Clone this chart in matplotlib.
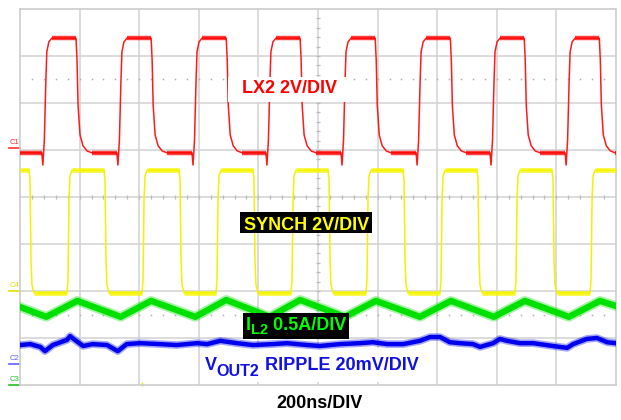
import numpy as np
import matplotlib.pyplot as plt
from matplotlib.patches import Rectangle

plt.rcParams['font.family'] = ['Liberation Sans', 'DejaVu Sans']

# scope screen: 10 x 8 divisions, 200ns/DIV -- all values in divisions

# LX2 switch node (CH1)
lx2_rise = [0.40, 1.66, 2.92, 4.16, 5.42, 6.68, 7.92, 9.18]
lx2_fall = [0.94, 2.20, 3.46, 4.70, 5.96, 7.22, 8.46, 9.72]
lx2_high, lx2_low = 7.38, 4.94
lx2_rise_dx = [-0.034, -0.017, 0.008, 0.034, 0.050, 0.084, 0.134]
lx2_rise_y = [4.94, 4.68, 5.21, 6.49, 7.09, 7.30, 7.38]
lx2_fall_dx = [0.0, 0.017, 0.034, 0.067, 0.117, 0.185, 0.268]
lx2_fall_y = [7.38, 6.91, 5.96, 5.32, 5.09, 4.98, 4.94]

# SYNCH (CH4)
sync_rise = [0.805, 2.064, 3.305, 4.564, 5.822, 7.064, 8.322, 9.581]
sync_fall = [0.151, 1.409, 2.668, 3.909, 5.168, 6.426, 7.668, 8.926]
sync_high, sync_low = 4.57, 1.96
sync_rise_dx = [-0.017, 0.0, 0.017, 0.034, 0.067]
sync_rise_y = [1.96, 2.23, 3.94, 4.45, 4.57]
sync_fall_dx = [0.0, 0.017, 0.034, 0.050, 0.084]
sync_fall_y = [4.57, 4.36, 2.66, 2.13, 1.96]

# inductor current IL2 (CH3)
il2_t = [0.0, 0.44, 0.96, 1.69, 2.20, 2.94, 3.46, 4.19, 4.70,
         5.45, 5.97, 6.71, 7.23, 7.95, 8.47, 9.21, 9.73, 10.0]
il2_y = [1.66, 1.45, 1.79, 1.45, 1.79, 1.45, 1.81, 1.45, 1.81,
         1.45, 1.79, 1.45, 1.79, 1.45, 1.79, 1.45, 1.79, 1.68]

# VOUT2 ripple (CH2)
vout_t = [0.00, 0.17, 0.34, 0.42, 0.55, 0.79, 0.84, 0.92, 1.06, 1.22,
          1.46, 1.64, 1.79, 2.01, 2.35, 2.63, 2.97, 3.14, 3.36, 3.64,
          3.91, 4.24, 4.48, 4.82, 5.03, 5.37, 5.70, 5.92, 6.16, 6.43,
          6.71, 6.88, 7.05, 7.21, 7.38, 7.60, 7.72, 7.94, 8.05, 8.17,
          8.39, 8.61, 8.94, 9.18, 9.28, 9.51, 9.68, 9.85, 10.0]
vout_y = [0.85, 0.87, 0.81, 0.72, 0.85, 0.96, 1.04, 0.96, 0.83, 0.87,
          0.85, 0.72, 0.87, 0.89, 0.87, 0.85, 0.89, 0.87, 0.94, 0.89,
          0.85, 0.87, 0.89, 0.85, 0.83, 0.87, 0.89, 0.91, 0.87, 0.87,
          0.94, 1.02, 1.02, 0.91, 0.89, 0.87, 0.81, 0.89, 0.98, 0.94,
          0.89, 0.89, 0.83, 0.79, 0.87, 0.98, 1.00, 0.91, 0.89]

# channel ground markers on the left edge
chan_names = ['C1', 'C4', 'C2', 'C3']
chan_levels = [5.04, 2.0, 0.45, 0.0]
chan_colors = ['#ff3030', '#e0e000', '#6060ff', '#20c020']


def square_trace(rise, fall, rdx, ry, fdx, fy, start):
    # polyline through the edges, plus the flat stretches between them
    ev = sorted([(t, 0) for t in rise] + [(t, 1) for t in fall])
    xs, ys = [0.0], [start]
    flats = []
    x0, lev = 0.0, start
    for t, kind in ev:
        dx, yy = (rdx, ry) if kind == 0 else (fdx, fy)
        flats.append((lev, x0, t + dx[0]))
        xs += [t + d for d in dx]
        ys += yy
        x0, lev = t + dx[-1], yy[-1]
    flats.append((lev, x0, 10.0))
    xs.append(10.0)
    ys.append(ys[-1])
    return xs, ys, flats


def sub_label(x, y, main, sub, rest, color, sub_size, sub_drop):
    # main letter + lowered subscript + rest of the label, left to right
    kw = dict(color=color, fontweight='bold', zorder=6)
    t1 = ax.text(x, y, main, fontsize=13, ha='left', va='baseline',
                 transform=ax.transAxes, **kw)
    t2 = ax.annotate(sub, xy=(1, 0), xycoords=t1, xytext=(0, -sub_drop),
                     textcoords='offset points', fontsize=sub_size,
                     ha='left', va='bottom', **kw)
    ax.annotate(rest, xy=(1, 0), xycoords=(t2, t1), fontsize=13,
                ha='left', va='bottom', **kw)


fig = plt.figure(figsize=(6.21, 4.20), dpi=100)
ax = fig.add_axes([20 / 621, 35 / 420, 596 / 621, 376 / 420])
ax.set_xlim(0, 10)
ax.set_ylim(0, 8)
ax.set_xticks([])
ax.set_yticks([])
for s in ax.spines.values():
    s.set_color('#cccccc')
    s.set_linewidth(1.2)

# graticule
gc = '#d2d2d2'
for i in range(1, 10):
    ax.axvline(i, color=gc, lw=1.1, zorder=0)
for j in range(1, 8):
    ax.axhline(j, color=gc, lw=1.1, zorder=0)
ticks_x = np.arange(0.2, 10, 0.2)
ticks_y = np.arange(0.2, 8, 0.2)
ax.vlines(ticks_x, 3.95, 4.05, color='#bbbbbb', lw=0.9, zorder=0)
ax.hlines(ticks_y, 4.96, 5.04, color='#bbbbbb', lw=0.9, zorder=0)
for yd in (1.5, 6.5):
    ax.plot(ticks_x, np.full(len(ticks_x), yd), ls='none', marker='s',
            ms=1.1, mew=0, color='#b0b0b0', zorder=0)
ax.plot([2.05], [0.03], marker='|', ms=3, color='#e8e800', clip_on=False)

# white box behind the VOUT2 label (covers the graticule)
ax.add_patch(Rectangle((0.302, 0.008), 0.379, 0.090, transform=ax.transAxes,
                       fc='white', ec='none', zorder=1))

# traces
x, y, flats = square_trace(lx2_rise, lx2_fall, lx2_rise_dx, lx2_rise_y,
                           lx2_fall_dx, lx2_fall_y, lx2_low)
ax.plot(x, y, color='#ff1a1a', lw=1.1, zorder=3)
for lev, a, b in flats:
    ax.plot([a, b], [lev, lev], color='#ff0000', lw=3.2, alpha=0.75,
            solid_capstyle='butt', zorder=3)

x, y, flats = square_trace(sync_rise, sync_fall, sync_rise_dx, sync_rise_y,
                           sync_fall_dx, sync_fall_y, sync_high)
ax.plot(x, y, color='#f2f200', lw=1.1, zorder=3)
for lev, a, b in flats:
    ax.plot([a, b], [lev, lev], color='#f5f500', lw=3.4, alpha=0.8,
            solid_capstyle='butt', zorder=3)

ax.plot(il2_t, il2_y, color='#00e000', lw=7, alpha=0.35, zorder=3)
ax.plot(il2_t, il2_y, color='#00e000', lw=4.5, zorder=3)

ax.plot(vout_t, vout_y, color='#0000ee', lw=5.5, alpha=0.35, zorder=3)
ax.plot(vout_t, vout_y, color='#0000ee', lw=3.2, zorder=3)

# channel markers
for name, lev, c in zip(chan_names, chan_levels, chan_colors):
    ax.plot([-0.018, 0], [lev, lev], color=c, lw=1.2,
            transform=ax.get_yaxis_transform(), clip_on=False)
    ax.text(-0.018, lev + 0.05, name, color=c, fontsize=5.5,
            transform=ax.get_yaxis_transform(), ha='left', va='bottom')

# labels
ax.add_patch(Rectangle((0.349, 0.753), 0.201, 0.0665, transform=ax.transAxes,
                       fc='white', ec='none', zorder=5))
ax.text(0.453, 0.777, 'LX2 2V/DIV', color='#ff0000', fontsize=13,
        fontweight='bold', ha='center', va='baseline',
        transform=ax.transAxes, zorder=6)

ax.add_patch(Rectangle((0.369, 0.404), 0.2215, 0.0559, transform=ax.transAxes,
                       fc='black', ec='none', zorder=5))
ax.text(0.480, 0.412, 'SYNCH 2V/DIV', color='#ffff00', fontsize=13,
        fontweight='bold', ha='center', va='baseline',
        transform=ax.transAxes, zorder=6)

ax.add_patch(Rectangle((0.374, 0.122), 0.178, 0.069, transform=ax.transAxes,
                       fc='black', ec='none', zorder=5))
sub_label(0.379, 0.146, 'I', 'L2', ' 0.5A/DIV', '#00ff00', 10.5, 2.2)

sub_label(0.310, 0.040, 'V', 'OUT2', ' RIPPLE 20mV/DIV', '#1010e0', 11.6, 3.6)

fig.text(0.5145, 0.0286, '200ns/DIV', color='black', fontsize=13,
         fontweight='bold', ha='center', va='baseline')

fig.savefig('out.png', dpi=100, facecolor='white')
